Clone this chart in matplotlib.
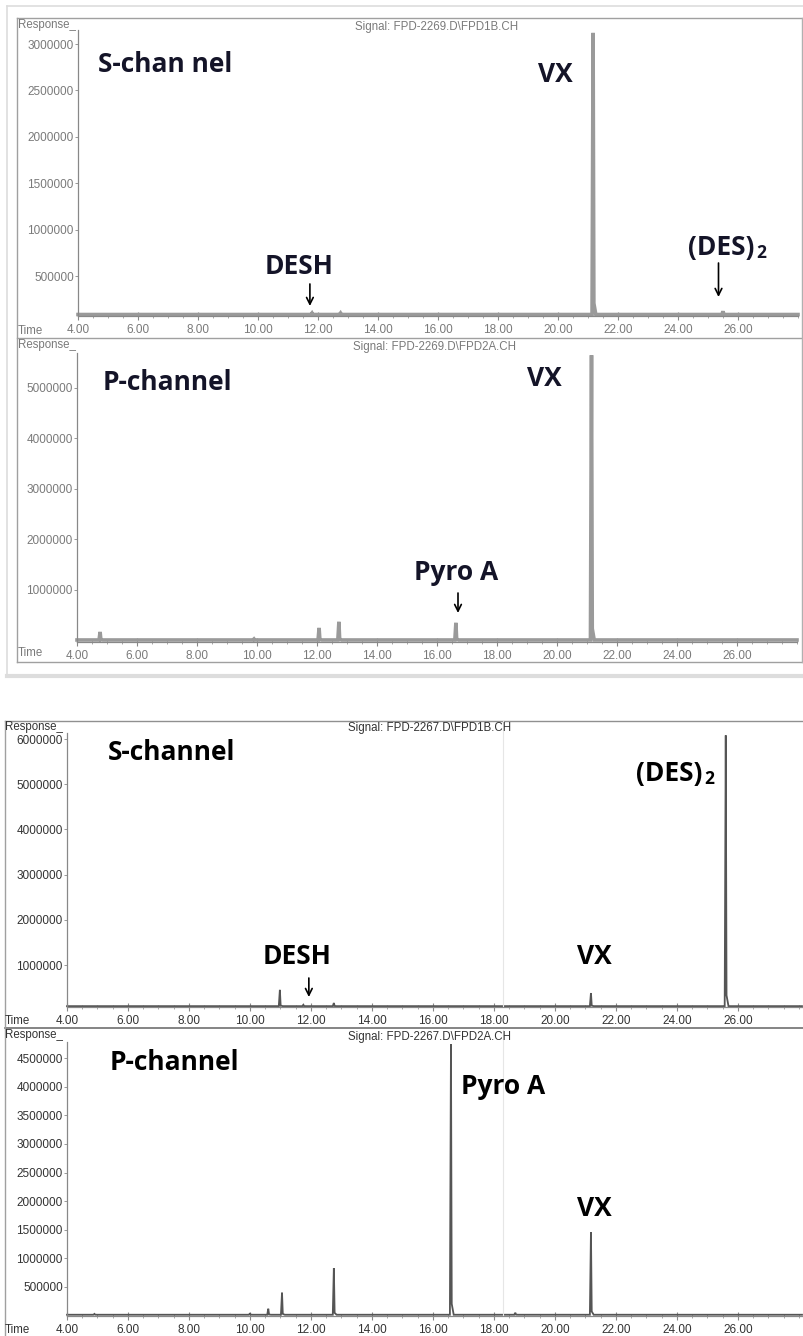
import numpy as np
import matplotlib
matplotlib.use("Agg")
import matplotlib.pyplot as plt
from matplotlib.lines import Line2D
from matplotlib.ticker import FixedLocator, MultipleLocator, FuncFormatter

W, H = 804, 1336

# ---------------- data ----------------
x_ticks = [4, 6, 8, 10, 12, 14, 16, 18, 20, 22, 24, 26]

# Sample FPD-2269, S-channel (FPD1B)
s1_times = [11.80, 12.75, 21.17, 25.50]
s1_heights = [100000, 100000, 3120000, 120000]
s1_base = 85000
s1_yticks = [500000, 1000000, 1500000, 2000000, 2500000, 3000000]

# Sample FPD-2269, P-channel (FPD2A)
p1_times = [4.77, 9.90, 12.07, 12.73, 16.63, 21.15]
p1_heights = [170000, 30000, 250000, 370000, 350000, 5650000]
p1_base = 10000
p1_yticks = [1000000, 2000000, 3000000, 4000000, 5000000]

# Sample FPD-2267, S-channel (FPD1B)
s2_times = [10.98, 11.75, 12.75, 21.18, 25.60]
s2_heights = [450000, 120000, 160000, 380000, 6080000]
s2_base = 90000
s2_yticks = [1000000, 2000000, 3000000, 4000000, 5000000, 6000000]

# Sample FPD-2267, P-channel (FPD2A)
p2_times = [4.90, 10.00, 10.60, 11.05, 12.75, 16.59, 18.70, 21.18]
p2_heights = [30000, 40000, 120000, 400000, 830000, 4740000, 50000, 1460000]
p2_base = 15000
p2_yticks = [500000, 1000000, 1500000, 2000000, 2500000, 3000000, 3500000,
             4000000, 4500000]

# ---------------- helpers ----------------
fig = plt.figure(figsize=(W / 100, H / 100), dpi=100)
fig.patch.set_facecolor("white")

LABEL_FONT = ["Open Sans", "DejaVu Sans"]
TICK_FONT = ["Liberation Sans", "DejaVu Sans"]


def fx(px):
    return px / W


def fy(py):
    return 1 - py / H


def hline(x1, x2, y, color, lw=1.0):
    fig.add_artist(Line2D([fx(x1), fx(x2)], [fy(y), fy(y)], color=color, lw=lw))


def vline(x, y1, y2, color, lw=1.0):
    fig.add_artist(Line2D([fx(x), fx(x)], [fy(y1), fy(y2)], color=color, lw=lw))


def trace(times, heights, base, lo=4.0, hi=28.0):
    xs, ys = [lo], [base]
    for t, h in sorted(zip(times, heights)):
        xs += [t - 0.035, t, t + 0.025, t + 0.09]
        ys += [base, h, base + (h - base) * 0.04, base]
    xs.append(hi)
    ys.append(base)
    return np.array(xs), np.array(ys)


def make_panel(left, right, top, bottom, xlim, ylim, yticks, times, heights,
               base, tick_color, line_color, lw):
    ax = fig.add_axes([fx(left), fy(bottom), (right - left) / W, (bottom - top) / H])
    ax.set_xlim(*xlim)
    ax.set_ylim(*ylim)
    for s in ("top", "right"):
        ax.spines[s].set_visible(False)
    ax.spines["left"].set_color("#888888")
    ax.spines["left"].set_linewidth(0.9)
    ax.spines["bottom"].set_color("#888888")
    ax.spines["bottom"].set_linewidth(0.9)
    ax.xaxis.set_major_locator(FixedLocator(x_ticks))
    ax.xaxis.set_minor_locator(MultipleLocator(0.5))
    ax.xaxis.set_major_formatter(FuncFormatter(lambda v, p: f"{v:.2f}"))
    ax.yaxis.set_major_locator(FixedLocator(yticks))
    ax.yaxis.set_major_formatter(FuncFormatter(lambda v, p: f"{int(round(v))}"))
    ax.tick_params(axis="x", which="major", direction="inout", length=6,
                   width=0.8, color="#888888", pad=3, labelsize=8.5,
                   labelcolor=tick_color)
    ax.tick_params(axis="x", which="minor", direction="inout", length=3,
                   width=0.6, color="#999999")
    ax.tick_params(axis="y", which="major", direction="out", length=2,
                   width=0.6, color="#888888", pad=1, labelsize=8.5,
                   labelcolor=tick_color)
    for lab in ax.get_xticklabels() + ax.get_yticklabels():
        lab.set_family(TICK_FONT)
    xs, ys = trace(times, heights, base, xlim[0], xlim[1])
    ax.plot(xs, ys, color=line_color, lw=lw, clip_on=False,
            solid_joinstyle="miter")
    ax.patch.set_alpha(0)
    return ax


def ptext(px, py, s, size, color="black", ha="center", family=None,
          weight="bold"):
    return fig.text(fx(px), fy(py), s, fontsize=size, color=color, ha=ha,
                    va="center", family=family or LABEL_FONT, weight=weight)


def small(px, py, s, color, ha="left"):
    fig.text(fx(px), fy(py), s, fontsize=8.3, color=color, ha=ha, va="center",
             family=TICK_FONT)


# ---------------- frames ----------------
# top figure outer light frame
hline(7, 804, 6, "#dddddd", 1.2)
vline(7, 6, 676, "#dddddd", 1.2)
hline(7, 804, 676, "#dddddd", 3)
# top figure panel boxes
hline(17, 802, 18, "#a0a0a0", 1.0)
hline(17, 802, 338, "#a0a0a0", 1.0)
hline(17, 802, 662, "#a0a0a0", 1.0)
vline(17, 18, 662, "#a0a0a0", 1.0)
vline(802, 18, 662, "#b0b0b0", 1.0)
# bottom figure boxes
hline(5, 804, 721, "#909090", 1.0)
hline(5, 804, 1028, "#707070", 1.2)
vline(5, 721, 1336, "#a0a0a0", 1.0)
vline(503, 721, 1006, "#e6e6e6", 0.8)
vline(503, 1030, 1315, "#e6e6e6", 0.8)

# ---------------- panels ----------------
TOP_TICK = "#7a7a7a"
BOT_TICK = "#333333"

ax1 = make_panel(78, 798, 30, 316, (4, 28), (69000, 3151000), s1_yticks,
                 s1_times, s1_heights, s1_base, TOP_TICK, "#9a9a9a", 2.6)
ax2 = make_panel(77, 797, 353, 642, (4, 28), (-30000, 5693000), p1_yticks,
                 p1_times, p1_heights, p1_base, TOP_TICK, "#9a9a9a", 2.6)
ax3 = make_panel(67, 802, 733, 1007, (4, 28.1), (71000, 6133000), s2_yticks,
                 s2_times, s2_heights, s2_base, BOT_TICK, "#555555", 1.3)
ax4 = make_panel(67, 802, 1042, 1316, (4, 28.1), (-7000, 4780000), p2_yticks,
                 p2_times, p2_heights, p2_base, BOT_TICK, "#555555", 1.3)

# header texts
small(18, 25, "Response_", TOP_TICK)
small(18, 345, "Response_", TOP_TICK)
small(5, 727, "Response_", BOT_TICK)
small(5, 1035, "Response_", BOT_TICK)
small(355, 27, "Signal: FPD-2269.D\\FPD1B.CH", TOP_TICK)
small(353, 347, "Signal: FPD-2269.D\\FPD2A.CH", TOP_TICK)
small(348, 728, "Signal: FPD-2267.D\\FPD1B.CH", BOT_TICK)
small(348, 1037, "Signal: FPD-2267.D\\FPD2A.CH", BOT_TICK)
small(18, 331, "Time", TOP_TICK)
small(18, 653, "Time", TOP_TICK)
small(5, 1021, "Time", BOT_TICK)
small(5, 1330, "Time", BOT_TICK)

# ---------------- annotations ----------------
TOPC = "#141428"
FS = 19

ptext(165, 65, "S-chan nel", FS, TOPC)
ptext(555, 75, "VX", FS, TOPC)
ptext(299, 266, "DESH", FS, TOPC)
t = ptext(688, 248, "(DES)", FS, TOPC, ha="left")
ptext(167, 382, "P-channel", FS, TOPC)
ptext(544, 379, "VX", FS, TOPC)
ptext(456, 573, "Pyro A", FS, TOPC)

ptext(172, 753, "S-channel", FS)
ptext(297, 957, "DESH", FS)
ptext(594, 957, "VX", FS)
ptext(174, 1063, "P-channel", FS)
ptext(503, 1087, "Pyro A", FS)
ptext(594, 1208, "VX", FS)
t3 = ptext(636, 773, "(DES)", FS, ha="left")

arrow = dict(arrowstyle="->", lw=1.2, color="black", mutation_scale=12,
             shrinkA=0, shrinkB=0)
ax1.annotate("", xy=(11.73, 177000), xytext=(11.73, 414000), arrowprops=arrow)
ax1.annotate("", xy=(25.35, 274000), xytext=(25.35, 640000), arrowprops=arrow)
ax2.annotate("", xy=(16.70, 545000), xytext=(16.70, 940000), arrowprops=arrow)
ax3.annotate("", xy=(11.93, 292000), xytext=(11.93, 712000), arrowprops=arrow)

# subscript "2" placed right after "(DES)"
fig.canvas.draw()
for tx, col in ((t, TOPC), (t3, "black")):
    bb = tx.get_window_extent()
    fig.text((bb.x1 + 2) / W, (bb.y0 - 1) / H, "2", fontsize=12.5,
             weight="bold", color=col, family=LABEL_FONT, ha="left",
             va="bottom")

fig.savefig("out.png", dpi=100, facecolor="white")
